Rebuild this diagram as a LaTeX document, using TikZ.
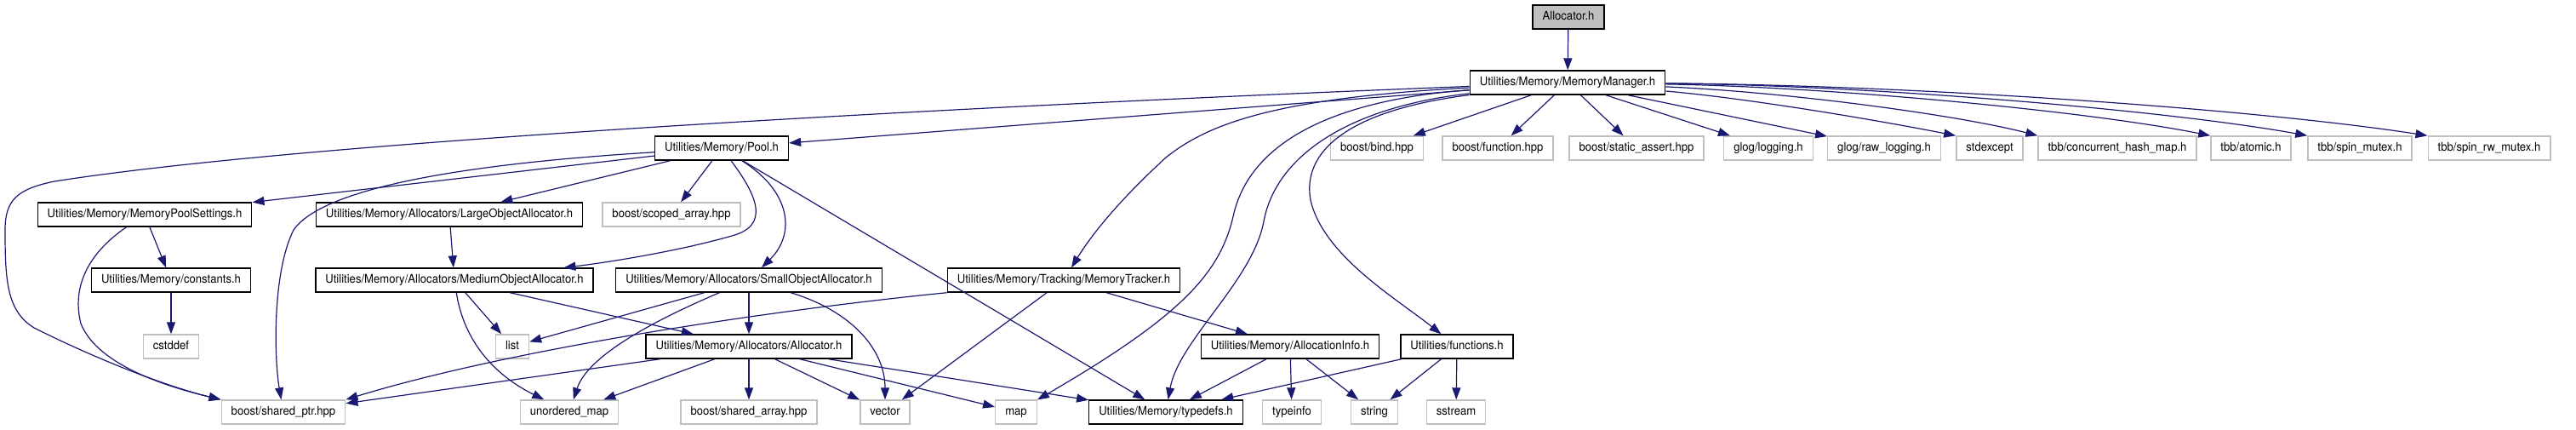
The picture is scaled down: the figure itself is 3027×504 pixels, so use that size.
\documentclass[tikz,border=0pt]{standalone}
\usepackage{fontspec}
\setmainfont{TeX Gyre Heros}[FakeStretch=0.935]
\usepackage{tikz}
\usetikzlibrary{arrows.meta}
\definecolor{azulFlecha}{RGB}{25, 25, 112}
\definecolor{grisBorde}{RGB}{191, 191, 191}

\begin{document}
\begin{tikzpicture}[
    x=1pt, y=-1pt,
    cabecera/.style={
        rectangle,
        draw=black,
        line width=1.4pt,
        fill=white,
        minimum height=28pt,
        inner xsep=11.5pt,
        text height=10pt,
        text depth=3pt,
        font=\fontsize{14}{16}\selectfont
    },
    externa/.style={
        cabecera,
        draw=grisBorde
    },
    raiz/.style={
        cabecera,
        fill=grisBorde
    },
    flecha/.style={
        -{Triangle[length=14pt,width=10pt]},
        draw=azulFlecha,
        line width=1.2pt
    }
]
\useasboundingbox (0,0) rectangle (3027,504);

\node[raiz] (allocator) at (1843,20) {Allocator.h};
\node[cabecera] (manager) at (1842,97) {Utilities/Memory/MemoryManager.h};

\node[cabecera] (pool) at (848,174) {Utilities/Memory/Pool.h};
\node[externa] (bind) at (1618,174) {boost/bind.hpp};
\node[externa] (function) at (1760,174) {boost/function.hpp};
\node[externa] (staticassert) at (1923,174) {boost/static\_assert.hpp};
\node[externa] (logging) at (2078,174) {glog/logging.h};
\node[externa] (rawlogging) at (2214,174) {glog/raw\_logging.h};
\node[externa] (stdexcept) at (2338,174) {stdexcept};
\node[externa] (hashmap) at (2488,174) {tbb/concurrent\_hash\_map.h};
\node[externa] (atomic) at (2645,174) {tbb/atomic.h};
\node[externa] (spinmutex) at (2773,174) {tbb/spin\_mutex.h};
\node[externa] (spinrw) at (2925,174) {tbb/spin\_rw\_mutex.h};

\node[cabecera] (poolsettings) at (170,252) {Utilities/Memory/MemoryPoolSettings.h};
\node[cabecera] (large) at (528,252) {Utilities/Memory/Allocators/LargeObjectAllocator.h};
\node[externa] (scoped) at (789,252) {boost/scoped\_array.hpp};

\node[cabecera] (constants) at (201,329) {Utilities/Memory/constants.h};
\node[cabecera] (medium) at (534,329) {Utilities/Memory/Allocators/MediumObjectAllocator.h};
\node[cabecera] (small) at (880,329) {Utilities/Memory/Allocators/SmallObjectAllocator.h};
\node[cabecera] (tracker) at (1250,329) {Utilities/Memory/Tracking/MemoryTracker.h};

\node[externa] (cstddef) at (201,407) {cstddef};
\node[externa] (list) at (602,407) {list};
\node[cabecera] (allocbase) at (880,407) {Utilities/Memory/Allocators/Allocator.h};
\node[cabecera] (allocinfo) at (1516,407) {Utilities/Memory/AllocationInfo.h};
\node[cabecera] (functions) at (1712,407) {Utilities/functions.h};

\node[externa] (sharedptr) at (333,484) {boost/shared\_ptr.hpp};
\node[externa] (unordered) at (669,484) {unordered\_map};
\node[externa] (sharedarray) at (880,484) {boost/shared\_array.hpp};
\node[externa] (vector) at (1040,484) {vector};
\node[externa] (map) at (1194,484) {map};
\node[cabecera] (typedefs) at (1370,484) {Utilities/Memory/typedefs.h};
\node[externa] (typeinfo) at (1518,484) {typeinfo};
\node[externa] (string) at (1615,484) {string};
\node[externa] (sstream) at (1711,484) {sstream};

\draw[flecha] (allocator) -- (manager);

\draw[flecha] (manager) -- (pool);
\draw[flecha] (manager) .. controls (1300,118) and (400,160) .. (64,213) .. controls (20,222) and (6,235) .. (6,270) .. controls (6,330) and (8,365) .. (40,385) .. controls (120,425) and (200,455) .. (sharedptr.north west);
\draw[flecha] (manager) -- (bind);
\draw[flecha] (manager) -- (function);
\draw[flecha] (manager) -- (staticassert);
\draw[flecha] (manager) -- (logging);
\draw[flecha] (manager) -- (rawlogging);
\draw[flecha] (manager) .. controls (2050,115) and (2200,140) .. (stdexcept.north west);
\draw[flecha] (manager) .. controls (2100,108) and (2300,135) .. (hashmap.north west);
\draw[flecha] (manager) .. controls (2150,102) and (2450,130) .. (atomic.north west);
\draw[flecha] (manager) .. controls (2200,100) and (2550,130) .. (spinmutex.north west);
\draw[flecha] (manager) .. controls (2250,100) and (2650,128) .. (spinrw.north west);
\draw[flecha] (manager) .. controls (1500,115) and (1420,145) .. (1370,185) .. controls (1310,240) and (1280,280) .. (tracker);
\draw[flecha] (manager) .. controls (1560,118) and (1470,170) .. (1450,250) .. controls (1435,320) and (1390,370) .. (map);
\draw[flecha] (manager) .. controls (1590,125) and (1500,180) .. (1485,260) .. controls (1472,330) and (1385,400) .. (typedefs);
\draw[flecha] (manager) .. controls (1580,130) and (1530,180) .. (1540,235) .. controls (1555,300) and (1640,350) .. (functions);

\draw[flecha] (pool) -- (poolsettings);
\draw[flecha] (pool) -- (large);
\draw[flecha] (pool) -- (scoped);
\draw[flecha] (pool) .. controls (550,192) and (380,220) .. (345,270) .. controls (320,320) and (322,420) .. (sharedptr);
\draw[flecha] (pool) .. controls (890,230) and (905,265) .. (860,277) .. controls (790,297) and (700,310) .. (medium);
\draw[flecha] (pool) .. controls (930,225) and (935,275) .. (small);
\draw[flecha] (pool) -- (typedefs);

\draw[flecha] (poolsettings) -- (constants);
\draw[flecha] (poolsettings) .. controls (100,300) and (85,340) .. (95,380) .. controls (115,430) and (200,455) .. (sharedptr.north west);
\draw[flecha] (constants) -- (cstddef);
\draw[flecha] (large) -- (medium);

\draw[flecha] (medium) -- (list);
\draw[flecha] (medium) .. controls (545,400) and (580,440) .. (unordered);
\draw[flecha] (medium) -- (allocbase);

\draw[flecha] (small) -- (list);
\draw[flecha] (small) .. controls (760,380) and (690,420) .. (unordered);
\draw[flecha] (small) -- (allocbase);
\draw[flecha] (small) .. controls (1000,365) and (1040,410) .. (vector);

\draw[flecha] (tracker.south west) .. controls (900,365) and (600,410) .. (sharedptr.north east);
\draw[flecha] (tracker) -- (vector);
\draw[flecha] (tracker) -- (allocinfo);

\draw[flecha] (allocbase) -- (sharedptr);
\draw[flecha] (allocbase) -- (unordered);
\draw[flecha] (allocbase) -- (sharedarray);
\draw[flecha] (allocbase) -- (vector);
\draw[flecha] (allocbase) -- (map);
\draw[flecha] (allocbase) -- (typedefs);

\draw[flecha] (allocinfo) -- (typedefs);
\draw[flecha] (allocinfo) -- (typeinfo);
\draw[flecha] (allocinfo) -- (string);

\draw[flecha] (functions) -- (typedefs);
\draw[flecha] (functions) -- (string);
\draw[flecha] (functions) -- (sstream);

\end{tikzpicture}
\end{document}
